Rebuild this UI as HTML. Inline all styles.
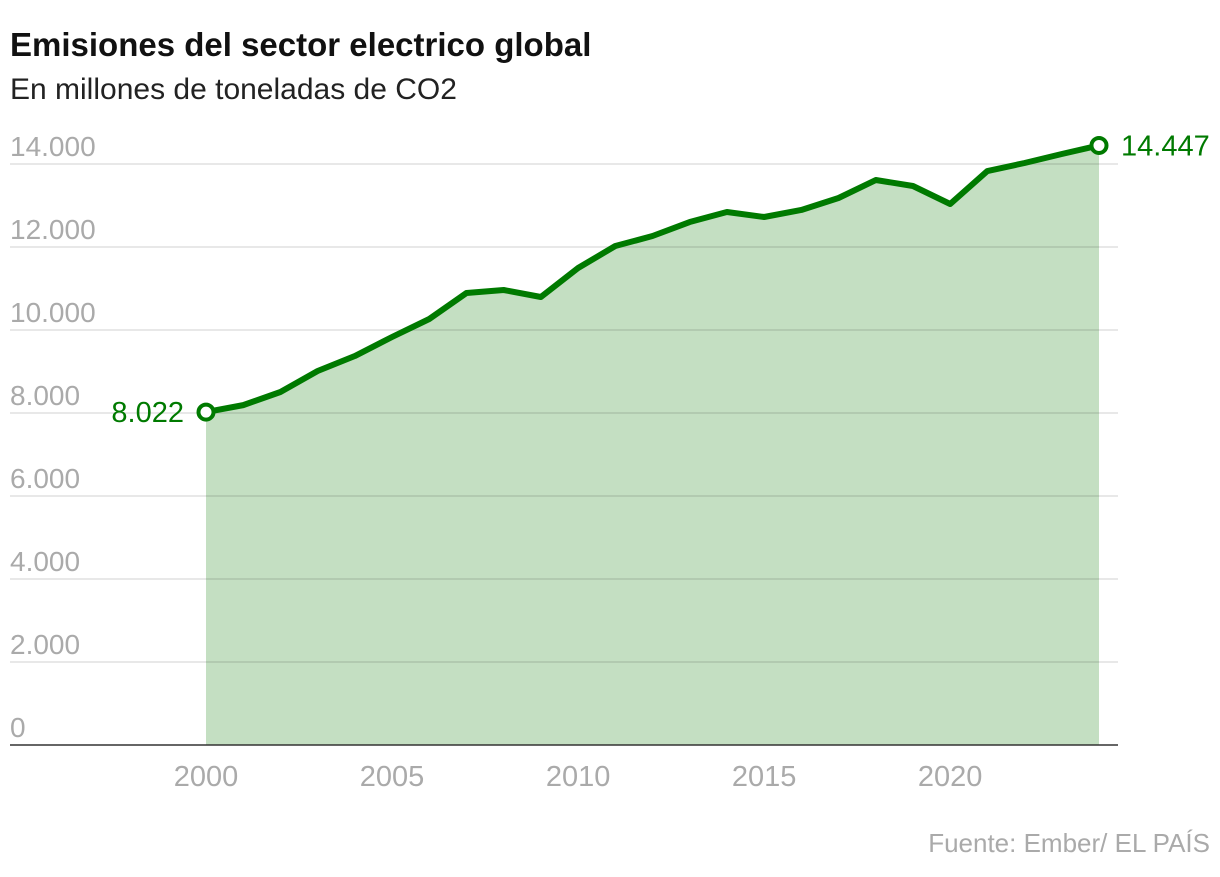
<!DOCTYPE html>
<html><head><meta charset="utf-8"><style>
body{margin:0;background:#fff;width:1220px;height:872px;overflow:hidden;font-family:"Liberation Sans",sans-serif}
</style></head><body>
<svg id="chart" width="1220" height="872">
<text x="10" y="56" font-size="33" font-weight="bold" fill="#111">Emisiones del sector electrico global</text>
<text x="10" y="99" font-size="30" fill="#222">En millones de toneladas de CO2</text>
<g id="labels"></g><g id="series"></g><g id="grid"></g><g id="marks"></g><g id="xaxis"></g>
<text x="1210" y="852" font-size="26" fill="#aaa" text-anchor="end">Fuente: Ember/ EL PAÍS</text>
</svg>
<script>
const years=[2000,2001,2002,2003,2004,2005,2006,2007,2008,2009,2010,2011,2012,2013,2014,2015,2016,2017,2018,2019,2020,2021,2022,2023,2024];
const values=[8022,8190,8506,9012,9373,9831,10265,10892,10964,10795,11494,12024,12265,12602,12843,12723,12892,13181,13614,13470,13036,13831,14024,14241,14447];
const yTicks=[0,2000,4000,6000,8000,10000,12000,14000];
const yTickLabels=["0","2.000","4.000","6.000","8.000","10.000","12.000","14.000"];
const xTicks=[2000,2005,2010,2015,2020];
const firstLabel="8.022", lastLabel="14.447";
const NS="http://www.w3.org/2000/svg";
const X=y=>206+(y-2000)*(1099-206)/24;
const Y=v=>745-v*0.0415;
function mk(p,tag,attrs){const e=document.createElementNS(NS,tag);for(const k in attrs)e.setAttribute(k,attrs[k]);p.appendChild(e);return e;}
const grid=document.getElementById('grid'),labs=document.getElementById('labels'),ser=document.getElementById('series'),marks=document.getElementById('marks'),xa=document.getElementById('xaxis');
yTicks.forEach((t,i)=>{
 if(t>0){const l=mk(grid,'line',{x1:10,x2:1118,y1:Y(t),y2:Y(t),stroke:'rgba(0,0,0,0.12)','stroke-width':1.5});
 
 }
 const tx=mk(labs,'text',{x:10,y:Y(t)-8,'font-size':28,fill:'#aaa'});tx.textContent=yTickLabels[i];
 
 
});
let d=years.map((y,i)=>(i?'L':'M')+X(y)+','+Y(values[i])).join('');
const area=mk(ser,'path',{d:d+'L'+X(years[years.length-1])+','+Y(0)+'L'+X(years[0])+','+Y(0)+'Z',fill:'#c4dfc2'});


const base=mk(xa,'line',{x1:10,x2:1118,y1:745,y2:745,stroke:'#333','stroke-width':1.5});


const line=mk(marks,'path',{d:d,fill:'none',stroke:'#007a00','stroke-width':6,'stroke-linejoin':'round'});


[[0,firstLabel,'end',-22],[years.length-1,lastLabel,'start',22]].forEach(([i,lab,anc,dx])=>{
 const c=mk(marks,'circle',{cx:X(years[i]),cy:Y(values[i]),r:7.5,fill:'#fff',stroke:'#007a00','stroke-width':4});
 
 
 const t=mk(marks,'text',{x:X(years[i])+dx,y:Y(values[i])+10,'font-size':29,fill:'#007a00','text-anchor':anc});t.textContent=lab;
 
 
});
xTicks.forEach(y=>{
 const t=mk(xa,'text',{x:X(y),y:786,'font-size':29,fill:'#aaa','text-anchor':'middle'});t.textContent=y;
 
 
});
</script>
</body></html>
